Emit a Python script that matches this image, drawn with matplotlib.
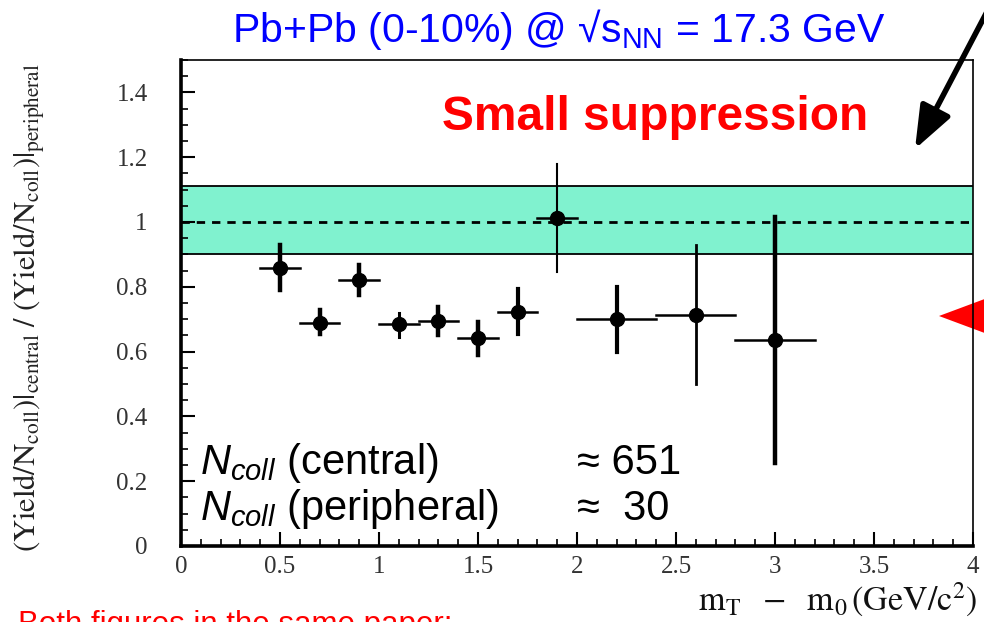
import matplotlib
matplotlib.use("Agg")
import matplotlib.pyplot as plt
from matplotlib.patches import Polygon, FancyArrowPatch
from matplotlib.ticker import MultipleLocator

plt.rcParams["font.family"] = ["Liberation Sans", "DejaVu Sans"]
plt.rcParams["mathtext.fontset"] = "custom"
plt.rcParams["mathtext.rm"] = "Liberation Sans"
plt.rcParams["mathtext.it"] = "Liberation Sans:italic"
plt.rcParams["mathtext.bf"] = "Liberation Sans:bold"

# ratio central / peripheral (Ncoll scaled) vs transverse mass
mt = [0.5, 0.7, 0.9, 1.1, 1.3, 1.5, 1.7, 1.9, 2.2, 2.6, 3.0]
mt_halfwidth = [0.1, 0.1, 0.1, 0.1, 0.1, 0.1, 0.1, 0.1, 0.2, 0.2, 0.2]
ratio = [0.859, 0.689, 0.822, 0.684, 0.695, 0.643, 0.723, 1.011, 0.700, 0.713, 0.636]
ratio_hi = [0.930, 0.729, 0.868, 0.718, 0.737, 0.692, 0.794, 1.178, 0.799, 0.930, 1.015]
ratio_lo = [0.790, 0.654, 0.774, 0.644, 0.651, 0.591, 0.654, 0.847, 0.600, 0.499, 0.257]

# Ncoll scaling uncertainty band around unity
band_lo, band_hi = 0.90, 1.11
ncoll_central = 651
ncoll_peripheral = 30

# line widths of the vertical error bars
ybar_lw = [3.2, 3.2, 3.2, 2.2, 3.2, 3.2, 3.0, 1.5, 3.0, 2.0, 3.2]

W, H = 984, 622
fig = plt.figure(figsize=(W / 100, H / 100), dpi=100)
fig.patch.set_facecolor("white")
ax = fig.add_axes([181 / W, 1 - 546 / H, (973 - 181) / W, (546 - 60) / H])
ax.set_facecolor("none")

ax.set_xlim(0, 4)
ax.set_ylim(0, 1.5)

ax.axhspan(band_lo, band_hi, facecolor="#80F2CF", edgecolor="none", zorder=1)
ax.axhline(band_lo, color="black", lw=1.3, zorder=2)
ax.axhline(band_hi, color="black", lw=1.3, zorder=2)
ax.axhline(1.0, color="black", lw=2.0, ls=(0, (3, 2.5)), zorder=2)

for xi, dx, yi, lo, hi, lw in zip(mt, mt_halfwidth, ratio, ratio_lo, ratio_hi, ybar_lw):
    ax.plot([xi - dx, xi + dx], [yi, yi], color="black", lw=1.8, zorder=3)
    ax.plot([xi, xi], [lo, hi], color="black", lw=lw, zorder=3)
ax.plot(mt, ratio, "o", color="black", ms=10, zorder=4)

serif = ["Liberation Serif", "DejaVu Serif"]
ax.xaxis.set_major_locator(MultipleLocator(0.5))
ax.xaxis.set_minor_locator(MultipleLocator(0.1))
ax.yaxis.set_major_locator(MultipleLocator(0.2))
ax.yaxis.set_minor_locator(MultipleLocator(0.05))
ax.xaxis.set_major_formatter(lambda v, p: f"{v:g}")
ax.yaxis.set_major_formatter(lambda v, p: f"{v:g}")
ax.tick_params(which="major", direction="in", length=10, width=1.5, colors="black",
               labelcolor="#333333", labelsize=18)
ax.tick_params(which="minor", direction="in", length=5, width=1.2)
ax.tick_params(axis="y", which="major", pad=24)
ax.tick_params(axis="x", which="major", pad=7)
for lab in ax.get_xticklabels() + ax.get_yticklabels():
    lab.set_family(serif)

for side in ["left", "bottom"]:
    ax.spines[side].set_linewidth(2.6)
for side in ["top", "right"]:
    ax.spines[side].set_linewidth(1.2)

ax.set_ylabel(r"$(\mathrm{Yield/N_{coll}})|_{\mathrm{central}}\ /\ (\mathrm{Yield/N_{coll}})|_{\mathrm{peripheral}}$",
              fontsize=22, math_fontfamily="stix", color="#222222")
ax.yaxis.label.set_va("center")
ax.yaxis.set_label_coords(-152 / (973 - 181), 0.49)
ax.text(1.006, -0.111, r"$\mathrm{m_T\ \ -\ \ m_0\,(GeV/c^2)}$", transform=ax.transAxes,
        ha="right", va="center", fontsize=24.5, math_fontfamily="stix", color="#111111")

line1 = 0.148
step = 46 / 486
ax.text(0.024, line1, r"$N_{coll}$" + " (central)", transform=ax.transAxes,
        fontsize=30, ha="left", va="baseline")
ax.text(0.024, line1 - step, r"$N_{coll}$" + " (peripheral)", transform=ax.transAxes,
        fontsize=30, ha="left", va="baseline")
ax.text(0.50, line1, f"\u2248 {ncoll_central}", transform=ax.transAxes,
        fontsize=30, ha="left", va="baseline")
ax.text(0.50, line1 - step, f"\u2248  {ncoll_peripheral}", transform=ax.transAxes,
        fontsize=30, ha="left", va="baseline")

# slide annotations around the plot
fig.text(559 / W, 1 - 30 / H, r"Pb+Pb (0-10%) @ √s$_{\mathrm{NN}}$ = 17.3 GeV",
         ha="center", va="center", fontsize=29.5, color="#0000FF")
fig.text(655 / W, 1 - 117 / H, "Small suppression", ha="center", va="center",
         fontsize=34.5, fontweight="bold", color="#FF0000")
fig.text(18 / W, 1 - 610 / H, "Both figures in the same paper:", ha="left", va="top",
         fontsize=22.5, color="#FF0000")

tri = Polygon([[939 / W, 1 - 316 / H], [990 / W, 1 - 297 / H], [990 / W, 1 - 335 / H]],
              closed=True, transform=fig.transFigure, facecolor="#FF0000",
              edgecolor="none", zorder=-1)
fig.add_artist(tri)

arrow = FancyArrowPatch((990 / W, 1 - 6 / H), (915 / W, 1 - 149 / H),
                        transform=fig.transFigure, arrowstyle="-|>,head_length=13,head_width=5",
                        color="black", lw=4, mutation_scale=2.0, shrinkA=0, shrinkB=0)
fig.add_artist(arrow)

fig.savefig("out.png", dpi=100)
